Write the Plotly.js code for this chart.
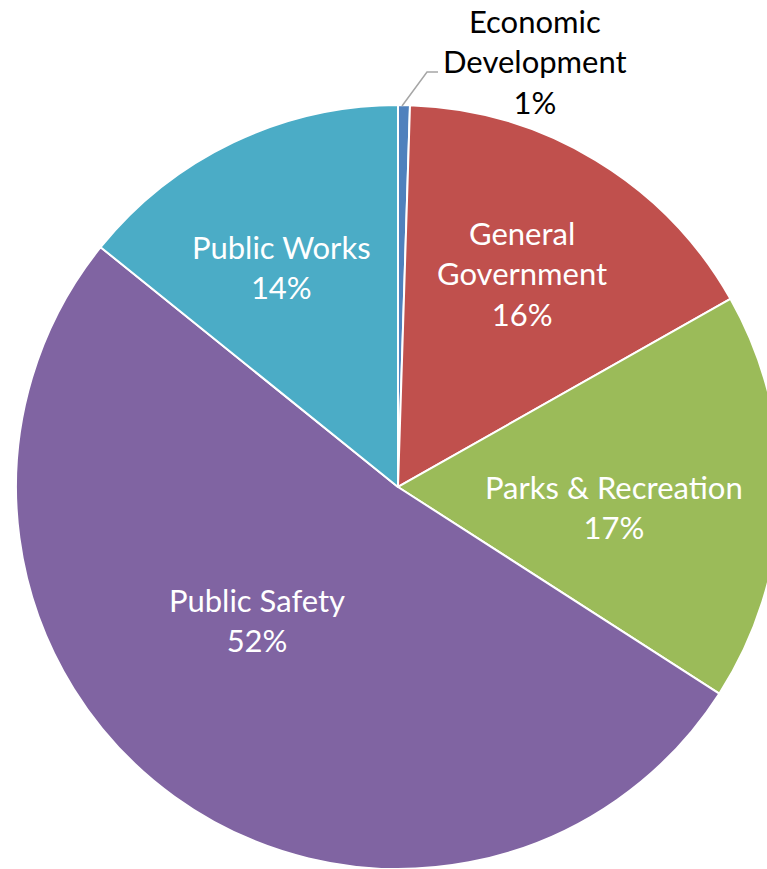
<!DOCTYPE html>
<html>
<head>
<meta charset="utf-8">
<script src="https://cdn.plot.ly/plotly-3.0.1.min.js"></script>
<style>
html,body{margin:0;padding:0;background:#fff;overflow:hidden;}
#wrap{width:767px;height:869px;overflow:hidden;}
#chart{width:800px;height:869px;}
</style>
</head>
<body>
<div id="wrap"><div id="chart"></div></div>
<script>
// ---- data ----
const categories = ["Economic<br>Development", "General<br>Government", "Parks & Recreation", "Public Safety", "Public Works"];
const values = [0.5, 16.3, 17.3, 51.7, 14.2];
const pctLabels = ["1%", "16%", "17%", "52%", "14%"];

// ---- styles / layout positions (pixels in an 800x869 canvas) ----
const colors = ["#4F81BD", "#C0504D", "#9BBB59", "#8064A2", "#4BACC6"];
const textColors = ["#000000", "#FFFFFF", "#FFFFFF", "#FFFFFF", "#FFFFFF"];
const labelPx = [[535, 62], [522, 273], [614, 507], [257, 620], [281, 267]];
const W = 800, H = 869;
const FONT = "Lato, 'Open Sans', sans-serif";

const trace = {
  type: "pie",
  labels: categories,
  values: values,
  textinfo: "none",
  sort: false,
  direction: "clockwise",
  rotation: 0,
  marker: {colors: colors, line: {color: "#FFFFFF", width: 2}},
  domain: {x: [0.02, 0.975], y: [0, 0.8792]},
  automargin: false,
  hoverinfo: "none"
};

const annotations = categories.map((c, i) => ({
  xref: "paper", yref: "paper",
  x: labelPx[i][0] / W, y: 1 - labelPx[i][1] / H,
  xanchor: "center", yanchor: "middle",
  text: c + "<br>" + pctLabels[i],
  showarrow: false,
  align: "center",
  font: {family: FONT, size: 31, color: textColors[i]}
}));

const leader = [[402, 106], [427, 72], [438, 72]];
const shapes = [{
  type: "path", xref: "paper", yref: "paper",
  path: leader.map((p, i) => (i ? "L" : "M") + (p[0] / W) + "," + (1 - p[1] / H)).join(" "),
  line: {color: "#A6A6A6", width: 1.5}
}];

const layout = {
  width: W,
  height: H,
  margin: {l: 0, r: 0, t: 0, b: 0},
  showlegend: false,
  paper_bgcolor: "#FFFFFF",
  font: {family: FONT},
  annotations: annotations,
  shapes: shapes
};

Plotly.newPlot("chart", [trace], layout, {displayModeBar: false, staticPlot: true});
</script>
</body>
</html>
